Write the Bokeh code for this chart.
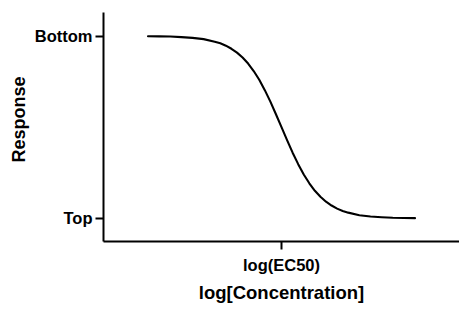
from bokeh.plotting import figure
from bokeh.models import Range1d, FixedTicker, Title
from bokeh.embed import file_html
from bokeh.resources import INLINE

# Dose-response curve (x in log units relative to EC50, y in % response)
log_conc = [-3.0, -2.75, -2.5, -2.25, -2.0, -1.75, -1.5, -1.375, -1.25, -1.125,
            -1.0, -0.875, -0.75, -0.625, -0.5, -0.375, -0.25, -0.125, 0.0,
            0.125, 0.25, 0.375, 0.5, 0.625, 0.75, 0.875, 1.0, 1.125, 1.25,
            1.375, 1.5, 1.75, 2.0, 2.25, 2.5, 2.75, 3.0]
response = [99.9, 99.8, 99.7, 99.4, 99.0, 98.3, 96.9, 96.0, 94.7, 93.0,
            90.9, 88.2, 84.9, 80.8, 76.0, 70.3, 64.0, 57.1, 50.0,
            42.9, 36.0, 29.7, 24.0, 19.2, 15.1, 11.8, 9.1, 7.0, 5.3,
            4.05, 3.1, 1.7, 1.0, 0.6, 0.3, 0.2, 0.1]

y_tick_values = [0, 100]
y_tick_labels = ["Top", "Bottom"]
x_tick_values = [0]
x_tick_labels = ["log(EC50)"]
x_title = "log[Concentration]"
y_title = "Response"

FONT = "Liberation Sans"

p = figure(width=459, height=305, output_backend="svg", toolbar_location=None,
           x_range=Range1d(-4.0, 4.0), y_range=Range1d(-12.73, 112.9),
           min_border_left=103, min_border_right=0, min_border_top=12,
           min_border_bottom=59, background_fill_color="white",
           border_fill_color="white")

p.line(log_conc, response, line_color="black", line_width=2.1,
       line_join="round", line_cap="round")

p.xgrid.visible = False
p.ygrid.visible = False
p.outline_line_color = None

xa = p.xaxis[0]
ya = p.yaxis[0]
xa.ticker = FixedTicker(ticks=x_tick_values)
ya.ticker = FixedTicker(ticks=y_tick_values)
xa.major_label_overrides = {v: s for v, s in zip(x_tick_values, x_tick_labels)}
ya.major_label_overrides = {v: s for v, s in zip(y_tick_values, y_tick_labels)}
xa.axis_label = x_title

for ax in (xa, ya):
    ax.axis_line_color = "black"
    ax.axis_line_width = 2
    ax.major_tick_line_color = "black"
    ax.major_tick_line_width = 2
    ax.major_tick_out = 8
    ax.major_tick_in = 0
    ax.minor_tick_line_color = None
    ax.major_label_text_font = FONT
    ax.major_label_text_font_style = "bold"
    ax.major_label_text_font_size = "16.5px"
    ax.major_label_text_color = "black"
    ax.axis_label_text_font = FONT
    ax.axis_label_text_font_style = "bold"
    ax.axis_label_text_font_size = "18.5px"
    ax.axis_label_text_color = "black"

xa.major_label_standoff = 6
xa.axis_label_standoff = 5
ya.major_label_standoff = 3

# y-axis title, placed slightly above the frame centre as in the reference
p.add_layout(Title(text=y_title, align="right", offset=64, standoff=6,
                   vertical_align="bottom", text_font=FONT,
                   text_font_style="bold", text_font_size="18px",
                   text_color="black"), "left")

open("out.html", "w").write(file_html(p, INLINE))
